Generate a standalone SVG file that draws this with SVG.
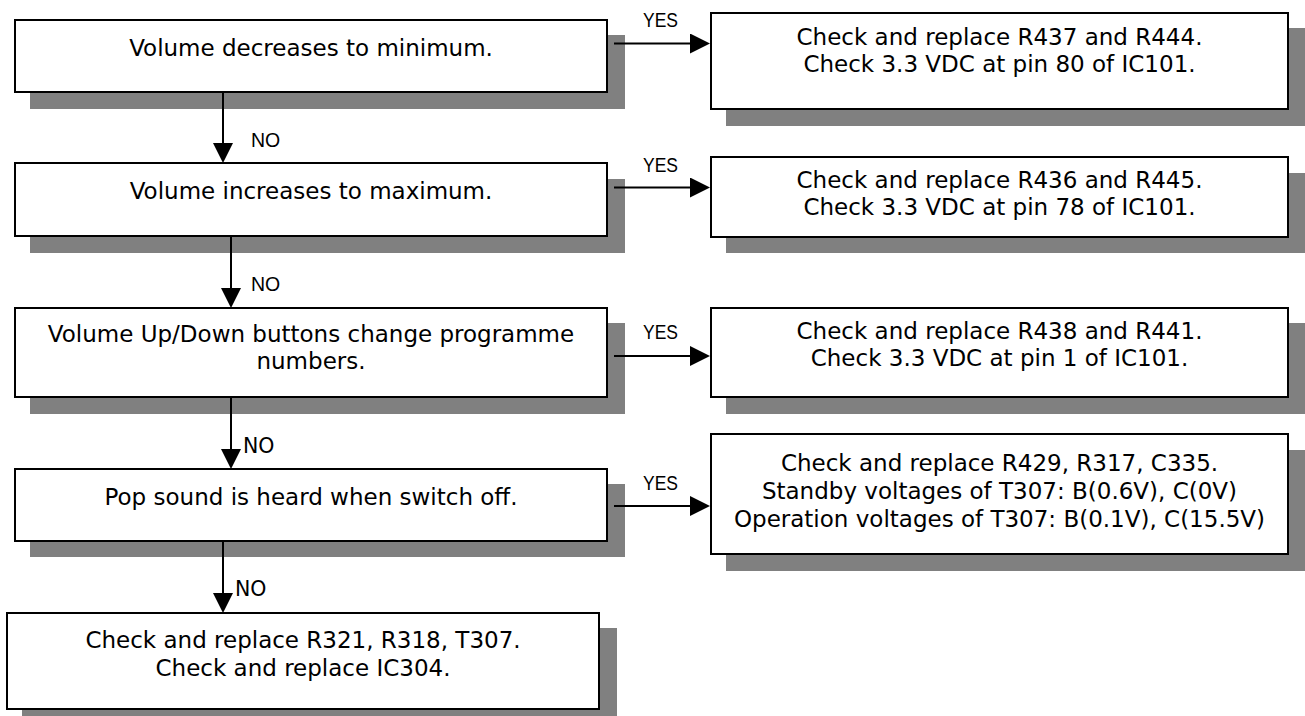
<svg xmlns="http://www.w3.org/2000/svg" width="1305" height="716" viewBox="0 0 1305 716">
<style>
.box{fill:#fff;stroke:#000;stroke-width:2}
.sh{fill:#808080;stroke:none}
.t{font-family:"DejaVu Sans",sans-serif;font-size:23px;fill:#000;text-anchor:middle}
.lbl{font-family:"Liberation Sans",Arial,sans-serif;font-size:19.5px;fill:#000}
.lbl2{font-family:"DejaVu Sans",sans-serif;font-size:20.5px;fill:#000}
.c{stroke:#000;stroke-width:2;fill:none;marker-end:url(#ah)}
</style>
<defs>
<marker id="ah" markerUnits="userSpaceOnUse" markerWidth="20" markerHeight="20" refX="10" refY="10" orient="auto">
<path d="M0,0 L20,10 L0,20 Z" fill="#000"/>
</marker>
</defs>
<rect width="1305" height="716" fill="#fff"/>
<g id="n1">
<rect class="sh" x="30" y="35" width="595" height="74"/>
<rect class="box" x="15" y="20" width="592" height="72"/>
<text class="t" x="311" y="56">Volume decreases to minimum.</text>
</g>
<g id="n2">
<rect class="sh" x="30" y="179" width="595" height="74"/>
<rect class="box" x="15" y="163" width="592" height="73"/>
<text class="t" x="311" y="199">Volume increases to maximum.</text>
</g>
<g id="n3">
<rect class="sh" x="30" y="323" width="595" height="91"/>
<rect class="box" x="15" y="308" width="592" height="89"/>
<text class="t" x="311" y="342">Volume Up/Down buttons change programme</text>
<text class="t" x="311" y="369">numbers.</text>
</g>
<g id="n4">
<rect class="sh" x="30" y="484" width="595" height="73"/>
<rect class="box" x="15" y="469" width="592" height="72"/>
<text class="t" x="311" y="505">Pop sound is heard when switch off.</text>
</g>
<g id="n5">
<rect class="sh" x="22" y="628" width="595" height="100"/>
<rect class="box" x="7" y="613" width="592" height="96"/>
<text class="t" x="303" y="648">Check and replace R321, R318, T307.</text>
<text class="t" x="303" y="676">Check and replace IC304.</text>
</g>
<g id="r1">
<rect class="sh" x="726" y="28" width="579" height="98"/>
<rect class="box" x="711" y="13" width="577" height="96"/>
<text class="t" x="999.5" y="45">Check and replace R437 and R444.</text>
<text class="t" x="999.5" y="72">Check 3.3 VDC at pin 80 of IC101.</text>
</g>
<g id="r2">
<rect class="sh" x="726" y="173" width="579" height="80"/>
<rect class="box" x="711" y="157" width="577" height="80"/>
<text class="t" x="999.5" y="188">Check and replace R436 and R445.</text>
<text class="t" x="999.5" y="215">Check 3.3 VDC at pin 78 of IC101.</text>
</g>
<g id="r3">
<rect class="sh" x="726" y="323" width="579" height="91"/>
<rect class="box" x="711" y="308" width="577" height="89"/>
<text class="t" x="999.5" y="339">Check and replace R438 and R441.</text>
<text class="t" x="999.5" y="366">Check 3.3 VDC at pin 1 of IC101.</text>
</g>
<g id="r4">
<rect class="sh" x="726" y="450" width="579" height="121"/>
<rect class="box" x="711" y="434" width="577" height="120"/>
<text class="t" x="999.5" y="471">Check and replace R429, R317, C335.</text>
<text class="t" x="999.5" y="499">Standby voltages of T307: B(0.6V), C(0V)</text>
<text class="t" x="999.5" y="527">Operation voltages of T307: B(0.1V), C(15.5V)</text>
</g>
<g id="connectors">
<line class="c" x1="223" y1="92" x2="223" y2="153"/>
<line class="c" x1="231" y1="236" x2="231" y2="298"/>
<line class="c" x1="231" y1="397" x2="231" y2="459"/>
<line class="c" x1="223" y1="541" x2="223" y2="603"/>
<line class="c" x1="614" y1="43.5" x2="700" y2="43.5"/>
<line class="c" x1="614" y1="187.5" x2="700" y2="187.5"/>
<line class="c" x1="614" y1="356" x2="700" y2="356"/>
<line class="c" x1="614" y1="506" x2="700" y2="506"/>
<text class="lbl" x="643" y="27" textLength="35" lengthAdjust="spacingAndGlyphs">YES</text>
<text class="lbl" x="643" y="172" textLength="35" lengthAdjust="spacingAndGlyphs">YES</text>
<text class="lbl" x="643" y="339" textLength="35" lengthAdjust="spacingAndGlyphs">YES</text>
<text class="lbl" x="643" y="490" textLength="35" lengthAdjust="spacingAndGlyphs">YES</text>
<text class="lbl" x="251" y="147">NO</text>
<text class="lbl" x="251" y="291">NO</text>
<text class="lbl2" x="243" y="453">NO</text>
<text class="lbl2" x="235" y="596">NO</text>
</g>
</svg>
